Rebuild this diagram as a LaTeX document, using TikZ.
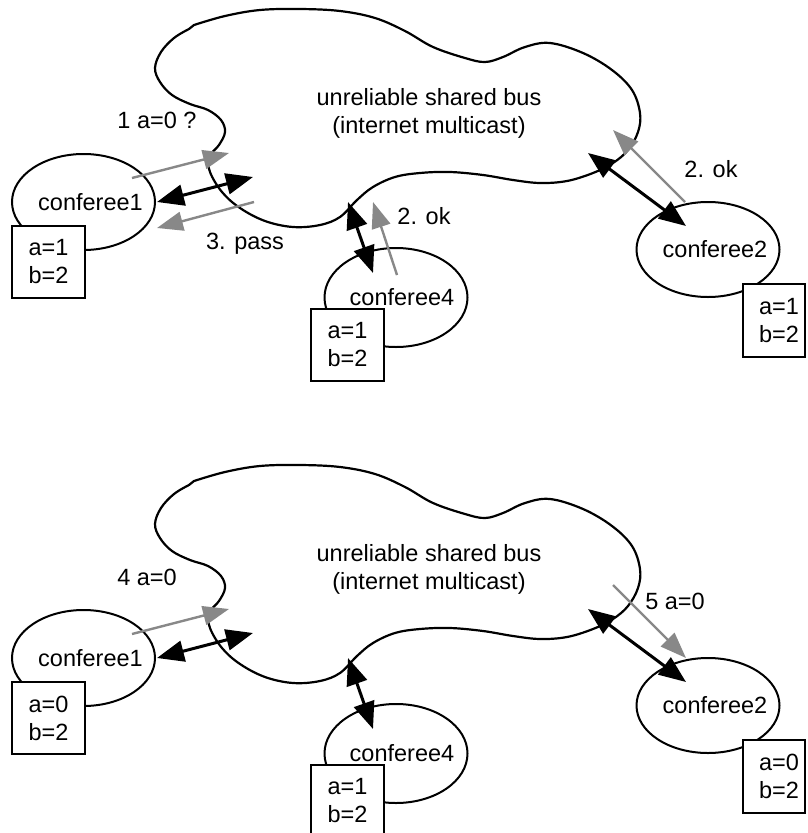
\documentclass[tikz,border=0pt]{standalone}
\usepackage{fontspec}
\setmainfont{Liberation Sans}
\usetikzlibrary{arrows.meta,shapes.geometric}
\definecolor{arrowgray}{RGB}{136,136,136}
\tikzset{
  every node/.style={font=\fontsize{23.5}{28}\selectfont},
  bus/.style={line width=2.2pt, line join=round},
  member/.style={ellipse, draw, line width=2pt, minimum width=143pt, minimum height=96pt, inner sep=0pt},
  memo/.style={rectangle, draw, fill=white, line width=2pt, minimum width=73pt, minimum height=72pt, align=center, inner sep=0pt},
  link/.style={line width=3pt, {Triangle[length=27pt,width=21pt]}-{Triangle[length=27pt,width=21pt]}},
  msg/.style={line width=2.4pt, draw=arrowgray, -{Triangle[length=26pt,width=19pt]}},
  lbl/.style={anchor=base},
}
\newcommand\buspanel[3]{%
  \draw[bus] plot[smooth, tension=0.6] coordinates {
    (194,25) (225,16) (260,10) (300,9) (340,11) (375,18) (405,31) (433,47)
    (465,58) (485,62) (503,57) (525,47) (550,43) (583,53) (612,70) (632,90)
    (640,113) (638,132) (628,150) (613,163) (593,173) (567,181) (540,183)
    (513,180) (483,175) (450,172) (420,173) (395,177) (373,187) (357,200)
    (340,217) (320,225) (293,227) (265,221) (240,208) (222,192) (210,172)
    (209,157) (219,145) (225,132) (221,120) (208,110) (190,104) (172,95)
    (160,82) (155,68) (161,52) (174,38) (189,29)} -- cycle;
  \node[align=center] (bustext) at (429,113) {unreliable shared bus\\(internet multicast)};
  \node[member] (conf1) at (83.5,202) {\makebox[0pt]{\hspace*{14pt}conferee1}};
  \node[member, minimum height=99pt] (conf4) at (396,297.5) {\makebox[0pt]{\hspace*{12pt}conferee4}};
  \node[member, minimum height=95pt] (conf2) at (708,249.5) {\makebox[0pt]{\hspace*{14pt}conferee2}};
  \node[memo] (mem1) at (48.5,262) {#1};
  \node[memo] (mem4) at (347.5,344.5) {#2};
  \node[memo, minimum width=62pt, minimum height=73pt] (mem2) at (774,320.5) {#3};
  \coordinate (l1a) at (157,202); \coordinate (l1b) at (253,177);
  \coordinate (l4a) at (348,202); \coordinate (l4b) at (373,273);
  \coordinate (l2a) at (588,153); \coordinate (l2b) at (686,226);
  \draw[link] (l1a) -- (l1b);
  \draw[link] (l4a) -- (l4b);
  \draw[link] (l2a) -- (l2b);
}
\begin{document}
\begin{tikzpicture}[x=1pt,y=-1pt]
\useasboundingbox (0,0) rectangle (807,833);
% ---------- top panel ----------
\begin{scope}[name prefix=top-]
  \buspanel{a=1\\b=2}{a=1\\b=2}{\hspace*{10pt}a=1\\\hspace*{10pt}b=2}
  \coordinate (q1s) at (132,178); \coordinate (q1e) at (229,153);
  \draw[msg] (q1s) -- (q1e);
  \node[lbl] (q1lbl) at (157,128) {1 a=0 ?};
  \coordinate (p3s) at (254,202); \coordinate (p3e) at (157,228);
  \draw[msg] (p3s) -- (p3e);
  \node[lbl] (p3lbl) at (245,249) {3. pass};
  \coordinate (k4s) at (397,275); \coordinate (k4e) at (373,202);
  \draw[msg] (k4s) -- (k4e);
  \node[lbl] (k4lbl) at (424,224) {2. ok};
  \coordinate (k2s) at (685,202); \coordinate (k2e) at (613,130);
  \draw[msg] (k2s) -- (k2e);
  \node[lbl] (k2lbl) at (711,177) {2. ok};
\end{scope}
% ---------- bottom panel ----------
\begin{scope}[shift={(0,456)}, name prefix=bot-]
  \buspanel{a=0\\b=2}{a=1\\b=2}{\hspace*{10pt}a=0\\\hspace*{10pt}b=2}
  \coordinate (q4s) at (132,178); \coordinate (q4e) at (229,153);
  \draw[msg] (q4s) -- (q4e);
  \node[lbl] (q4lbl) at (147,129) {4 a=0};
  \coordinate (q5s) at (613,129); \coordinate (q5e) at (686,202);
  \draw[msg] (q5s) -- (q5e);
  \node[lbl] (q5lbl) at (675,153) {5 a=0};
\end{scope}
\end{tikzpicture}
\end{document}
